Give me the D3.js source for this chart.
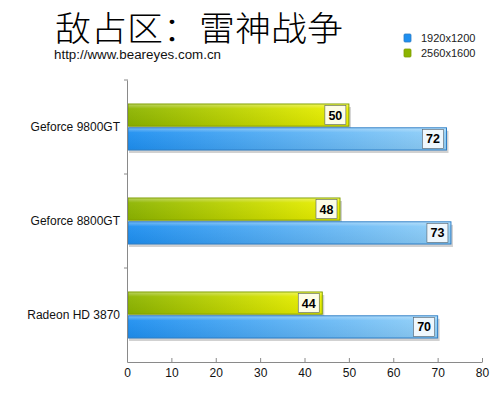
<!DOCTYPE html>
<html>
<head>
<meta charset="utf-8">
<script src="https://cdn.jsdelivr.net/npm/d3@7"></script>
<style>
  body { margin: 0; background: #fff; }
  svg text { font-family: "Liberation Sans", Arial, sans-serif; }
</style>
</head>
<body>
<div id="chart"></div>
<script>
const width = 500;
const height = 399;

const categories = ["Geforce 9800GT", "Geforce 8800GT", "Radeon HD 3870"];
const series = ["2560x1600", "1920x1200"];
const legendOrder = ["1920x1200", "2560x1600"];
const values2560 = [50, 48, 44];
const values1920 = [72, 73, 70];
const xTicks = [0, 10, 20, 30, 40, 50, 60, 70, 80];

const titleText = "敌占区：雷神战争";
const urlText = "http://www.beareyes.com.cn";

const colors = {
  "2560x1600": { from: "#8cb400", to: "#eef200", edge: "#7f9d00", box: "#fdfde6" },
  "1920x1200": { from: "#1e8ff0", to: "#92d0f8", edge: "#2c7cc4", box: "#eef7fd" },
};

const rows = categories.map((c, i) => ({
  name: c,
  "2560x1600": values2560[i],
  "1920x1200": values1920[i],
}));

const margin = { top: 80, left: 127, right: 18, bottom: 37 };

const svg = d3
  .select("#chart")
  .append("svg")
  .attr("width", width)
  .attr("height", height);

const defs = svg.append("defs");
series.forEach((s, i) => {
  const g = defs
    .append("linearGradient")
    .attr("id", "grad" + i)
    .attr("x1", "0%")
    .attr("x2", "100%");
  g.append("stop").attr("offset", "0%").attr("stop-color", colors[s].from);
  g.append("stop").attr("offset", "100%").attr("stop-color", colors[s].to);
});
const hl = defs
  .append("linearGradient")
  .attr("id", "shine")
  .attr("x1", "0%").attr("x2", "0%").attr("y1", "0%").attr("y2", "100%");
hl.append("stop").attr("offset", "0%").attr("stop-color", "#fff").attr("stop-opacity", 0.35);
hl.append("stop").attr("offset", "20%").attr("stop-color", "#fff").attr("stop-opacity", 0.05);
hl.append("stop").attr("offset", "100%").attr("stop-color", "#000").attr("stop-opacity", 0.05);

const x = d3
  .scaleLinear()
  .domain([0, 80])
  .range([margin.left, width - margin.right]);

const y = d3
  .scaleBand()
  .domain(categories)
  .range([margin.top, height - margin.bottom])
  .padding(0);

const half = 23;
const ySub = d3
  .scaleBand()
  .domain(series)
  .range([y.bandwidth() / 2 - half, y.bandwidth() / 2 + half])
  .paddingInner(0.07);

// title
svg
  .append("text")
  .attr("x", 55)
  .attr("y", 41)
  .attr("textLength", 288)
  .attr("lengthAdjust", "spacingAndGlyphs")
  .style("font-family", '"Noto Sans CJK SC", sans-serif')
  .style("font-weight", 300)
  .style("font-size", "34px")
  .attr("fill", "#000")
  .text(titleText);

svg
  .append("text")
  .attr("x", 54)
  .attr("y", 59)
  .attr("textLength", 167)
  .attr("lengthAdjust", "spacingAndGlyphs")
  .style("font-size", "12.5px")
  .attr("fill", "#111")
  .text(urlText);

// legend
const legend = svg
  .append("g")
  .selectAll("g")
  .data(legendOrder)
  .enter()
  .append("g")
  .attr("transform", (d, i) => `translate(404,${34 + i * 15})`);
legend
  .append("rect")
  .attr("width", 7)
  .attr("height", 8)
  .attr("rx", 1)
  .attr("fill", (d) => colors[d].from)
  .attr("stroke", (d) => colors[d].edge)
  .attr("stroke-width", 0.8);
legend
  .append("text")
  .attr("x", 17)
  .attr("y", 7.5)
  .style("font-size", "11px")
  .attr("fill", "#222")
  .text((d) => d);

// bars
const groups = svg
  .append("g")
  .selectAll("g")
  .data(rows)
  .enter()
  .append("g")
  .attr("transform", (d) => `translate(0,${y(d.name)})`);

const bars = groups
  .selectAll("g")
  .data((d) => series.map((s) => ({ key: s, value: d[s] })))
  .enter()
  .append("g");

// shadow
bars
  .append("rect")
  .attr("x", x(0) + 2)
  .attr("y", (d) => ySub(d.key) + 3)
  .attr("width", (d) => x(d.value) - x(0))
  .attr("height", ySub.bandwidth())
  .attr("fill", "#9a9a9a")
  .attr("opacity", 0.45);

bars
  .append("rect")
  .attr("x", x(0) + 1)
  .attr("y", (d) => ySub(d.key))
  .attr("width", (d) => x(d.value) - x(0) - 1)
  .attr("height", ySub.bandwidth())
  .attr("fill", (d) => "url(#grad" + series.indexOf(d.key) + ")")
  .attr("stroke", (d) => colors[d.key].edge)
  .attr("stroke-width", 1);

bars
  .append("rect")
  .attr("x", x(0) + 1.5)
  .attr("y", (d) => ySub(d.key) + 0.5)
  .attr("width", (d) => x(d.value) - x(0) - 2)
  .attr("height", ySub.bandwidth() - 1)
  .attr("fill", "url(#shine)");

// value boxes
const boxW = 21;
const boxH = 19;
bars
  .append("rect")
  .attr("x", (d) => x(d.value) - boxW - 3)
  .attr("y", (d) => ySub(d.key) + (ySub.bandwidth() - boxH) / 2)
  .attr("width", boxW)
  .attr("height", boxH)
  .attr("fill", (d) => colors[d.key].box)
  .attr("stroke", "#55606a")
  .attr("stroke-width", 0.6);

bars
  .append("text")
  .attr("x", (d) => x(d.value) - 3 - boxW / 2)
  .attr("y", (d) => ySub(d.key) + ySub.bandwidth() / 2 + 4.5)
  .attr("text-anchor", "middle")
  .style("font-size", "12.5px")
  .style("font-weight", "bold")
  .attr("fill", "#000")
  .text((d) => d.value);

// x axis
const xAxis = svg
  .append("g")
  .attr("transform", `translate(0,${height - margin.bottom})`)
  .call(d3.axisBottom(x).tickValues(xTicks).tickSize(0).tickPadding(6));
xAxis.select(".domain").attr("stroke", "#8a8a8a");
xAxis
  .selectAll(".tick text")
  .style("font-size", "12px")
  .style("font-family", '"Liberation Sans", Arial, sans-serif')
  .attr("fill", "#111");
xAxis
  .selectAll(".tick")
  .append("line")
  .attr("y1", -4)
  .attr("y2", 0)
  .attr("stroke", "#8a8a8a");

// y axis
const yAxis = svg
  .append("g")
  .attr("transform", `translate(${margin.left},0)`)
  .call(d3.axisLeft(y).tickSize(0).tickPadding(7));
yAxis.select(".domain").attr("stroke", "#8a8a8a");
yAxis
  .selectAll(".tick text")
  .style("font-size", "12px")
  .style("font-family", '"Liberation Sans", Arial, sans-serif')
  .attr("fill", "#111");

// category separators
svg
  .append("g")
  .selectAll("line")
  .data(categories)
  .enter()
  .append("line")
  .attr("x1", margin.left - 3)
  .attr("x2", margin.left + 1)
  .attr("y1", (d) => y(d))
  .attr("y2", (d) => y(d))
  .attr("stroke", "#8a8a8a");
</script>
</body>
</html>
